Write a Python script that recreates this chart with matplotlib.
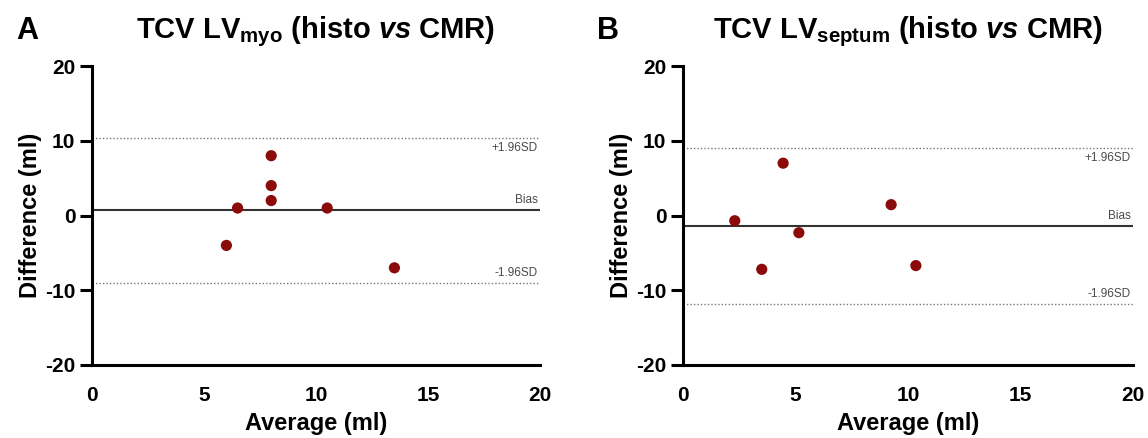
import matplotlib
matplotlib.use("Agg")
import matplotlib.pyplot as plt

plt.rcParams['font.family'] = ['Liberation Sans', 'DejaVu Sans']
plt.rcParams['mathtext.fontset'] = 'custom'
plt.rcParams['mathtext.rm'] = 'Liberation Sans:bold'
plt.rcParams['mathtext.it'] = 'Liberation Sans:bold:italic'
plt.rcParams['mathtext.bf'] = 'Liberation Sans:bold'
plt.rcParams['axes.unicode_minus'] = False

# Panel A data: TCV LV myo
avg_a = [6.0, 6.5, 8.0, 8.0, 8.0, 10.5, 13.5]
diff_a = [-4.0, 1.0, 8.0, 4.0, 2.0, 1.0, -7.0]
bias_a = 0.71
upper_a = 10.43
lower_a = -9.0

# Panel B data: TCV LV septum
avg_b = [2.3, 4.45, 3.5, 5.15, 9.25, 10.35]
diff_b = [-0.7, 7.0, -7.2, -2.3, 1.45, -6.7]
bias_b = -1.4
upper_b = 9.07
lower_b = -11.85

xticks = [0, 5, 10, 15, 20]
yticks = [-20, -10, 0, 10, 20]

fig = plt.figure(figsize=(11.48, 4.38), dpi=100)

W, H = 1148, 438
panels = [
    dict(left=92, right=540, letter='A', lx=27,
         title=r"TCV LV$_{\mathrm{myo}}$ (histo $\mathit{vs}$ CMR)",
         x=avg_a, y=diff_a, bias=bias_a, up=upper_a, lo=lower_a),
    dict(left=683, right=1133, letter='B', lx=608,
         title=r"TCV LV$_{\mathrm{septum}}$ (histo $\mathit{vs}$ CMR)",
         x=avg_b, y=diff_b, bias=bias_b, up=upper_b, lo=lower_b),
]
top, bottom = 66, 365

for p in panels:
    ax = fig.add_axes([p['left'] / W, 1 - bottom / H,
                       (p['right'] - p['left']) / W, (bottom - top) / H])
    ax.set_xlim(0, 20)
    ax.set_ylim(-20, 20)
    ax.set_xticks(xticks)
    ax.set_yticks(yticks)
    ax.spines['top'].set_visible(False)
    ax.spines['right'].set_visible(False)
    for s in ('left', 'bottom'):
        ax.spines[s].set_linewidth(2.2)
    ax.tick_params(axis='y', direction='out', length=9, width=2.2, pad=3)
    ax.tick_params(axis='x', length=0, pad=15)
    for lab in ax.get_xticklabels() + ax.get_yticklabels():
        lab.set_fontsize(15)
        lab.set_fontweight('bold')

    ax.axhline(p['bias'], color='#333333', lw=1.5, zorder=1)
    ax.axhline(p['up'], color='#777777', lw=1.0, ls=(0, (1, 1.5)), zorder=1)
    ax.axhline(p['lo'], color='#777777', lw=1.0, ls=(0, (1, 1.5)), zorder=1)
    ax.text(19.9, p['up'] - 0.6, '+1.96SD', ha='right', va='top',
            fontsize=8.5, color='#4a4a4a')
    ax.text(19.9, p['bias'] + 0.5, 'Bias', ha='right', va='bottom',
            fontsize=8.5, color='#4a4a4a')
    ax.text(19.9, p['lo'] + 0.5, '-1.96SD', ha='right', va='bottom',
            fontsize=8.5, color='#4a4a4a')

    ax.scatter(p['x'], p['y'], s=65, color='#8b0a0a', zorder=3,
               edgecolors='none')

    ax.set_xlabel('Average (ml)', fontsize=17, fontweight='bold', labelpad=5)
    ax.set_ylabel('Difference (ml)', fontsize=17, fontweight='bold', labelpad=2)
    ax.set_title(p['title'], fontsize=21, fontweight='bold', pad=20)

    fig.text(p['lx'] / W, 1 - 31 / H, p['letter'], fontsize=22,
             fontweight='bold', ha='center', va='center')

fig.savefig('out.png', dpi=100)
